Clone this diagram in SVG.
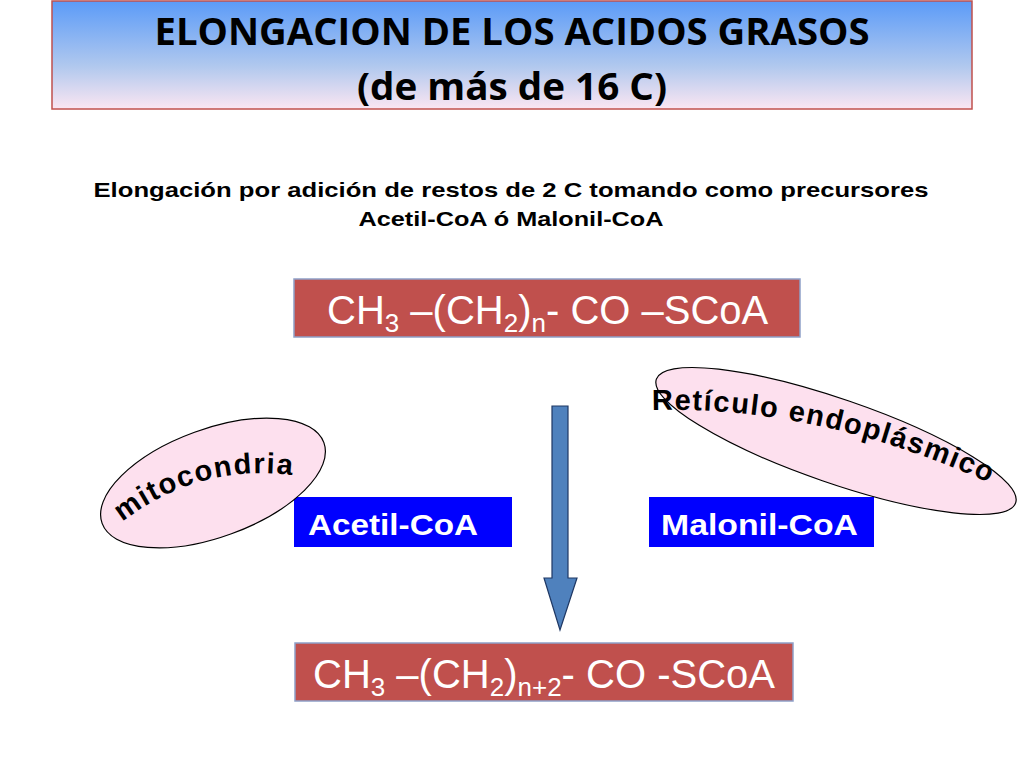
<svg xmlns="http://www.w3.org/2000/svg" width="1024" height="768" viewBox="0 0 1024 768">
<defs>
<linearGradient id="tg" x1="0" y1="0" x2="0" y2="1"><stop offset="0" stop-color="#5b9bf8"/><stop offset="0.6" stop-color="#b0c8ee"/><stop offset="1" stop-color="#fbe6f2"/></linearGradient>
<path id="p1" d="M652,410 Q830,405 1015,495"/>
<path id="p2" d="M122,522 Q205,458 310,478"/>
</defs>
<style>
.red{fill:#c0504d;stroke:#8ea0c8;stroke-width:1.5}
.blue{fill:#0000ff}
.chem{font-family:"Liberation Sans",Arial,sans-serif;font-size:40px;fill:#fff}
.wb{font-family:"Liberation Sans",Arial,sans-serif;font-size:30px;font-weight:bold;fill:#fff}
.ell{fill:#fde0ee;stroke:#000;stroke-width:1.2}
.et{font-family:"Liberation Sans",Arial,sans-serif;font-size:29px;font-weight:bold;fill:#000;letter-spacing:1.5px}
</style>
<rect width="1024" height="768" fill="#fff"/>
<g id="title">
<rect x="52" y="1" width="920" height="108" fill="url(#tg)" stroke="#c0504d" stroke-width="1.5"/>
<text x="512" y="45" text-anchor="middle" font-family="'Open Sans','Liberation Sans',sans-serif" font-weight="bold" font-size="38" fill="#000" textLength="715" lengthAdjust="spacingAndGlyphs">ELONGACION DE LOS ACIDOS GRASOS</text>
<text x="512" y="100" text-anchor="middle" font-family="'Open Sans','Liberation Sans',sans-serif" font-weight="bold" font-size="38" fill="#000" textLength="310" lengthAdjust="spacingAndGlyphs">(de más de 16 C)</text>
</g>
<g id="subtitle" font-family="'Liberation Sans',Arial,sans-serif" font-weight="bold" font-size="20.5" fill="#000" text-anchor="middle">
<text x="511" y="197" textLength="835" lengthAdjust="spacingAndGlyphs">Elongación por adición de restos de 2 C tomando como precursores</text>
<text x="511" y="226" textLength="305" lengthAdjust="spacingAndGlyphs">Acetil-CoA ó Malonil-CoA</text>
</g>
<g id="top">
<rect class="red" x="294" y="279" width="506" height="58"/>
<text class="chem" x="327" y="324">CH<tspan font-size="26" dy="8">3</tspan><tspan dy="-8"> –(CH</tspan><tspan font-size="26" dy="8">2</tspan><tspan dy="-8">)</tspan><tspan font-size="26" dy="8">n</tspan><tspan dy="-8">- CO –SCoA</tspan></text>
</g>
<g id="bottom">
<rect class="red" x="295" y="643" width="498" height="58"/>
<text class="chem" x="313" y="688">CH<tspan font-size="26" dy="8">3</tspan><tspan dy="-8"> –(CH</tspan><tspan font-size="26" dy="8">2</tspan><tspan dy="-8">)</tspan><tspan font-size="26" dy="8">n+2</tspan><tspan dy="-8">- CO -SCoA</tspan></text>
</g>
<g id="connectors">
<path d="M552,406 H568 V578 H577 L560,630 L544,578 H552 Z" fill="#4f81bd" stroke="#1f3864" stroke-width="1.2"/>
</g>
<g id="acetil">
<rect class="blue" x="294" y="497" width="218" height="50"/>
<text class="wb" x="308" y="535" textLength="170" lengthAdjust="spacingAndGlyphs">Acetil-CoA</text>
</g>
<g id="malonil">
<rect class="blue" x="649" y="497" width="225" height="50"/>
<text class="wb" x="661" y="535" textLength="197" lengthAdjust="spacingAndGlyphs">Malonil-CoA</text>
</g>
<g id="reticulo">
<ellipse class="ell" cx="836" cy="441" rx="190" ry="42" transform="rotate(19 836 441)"/>
<text class="et"><textPath href="#p1">Retículo endoplásmico</textPath></text>
</g>
<g id="mitocondria">
<ellipse class="ell" cx="213" cy="483" rx="118" ry="54" transform="rotate(-20 213 483)"/>
<text class="et" font-size="26"><textPath href="#p2">mitocondria</textPath></text>
</g>
</svg>
